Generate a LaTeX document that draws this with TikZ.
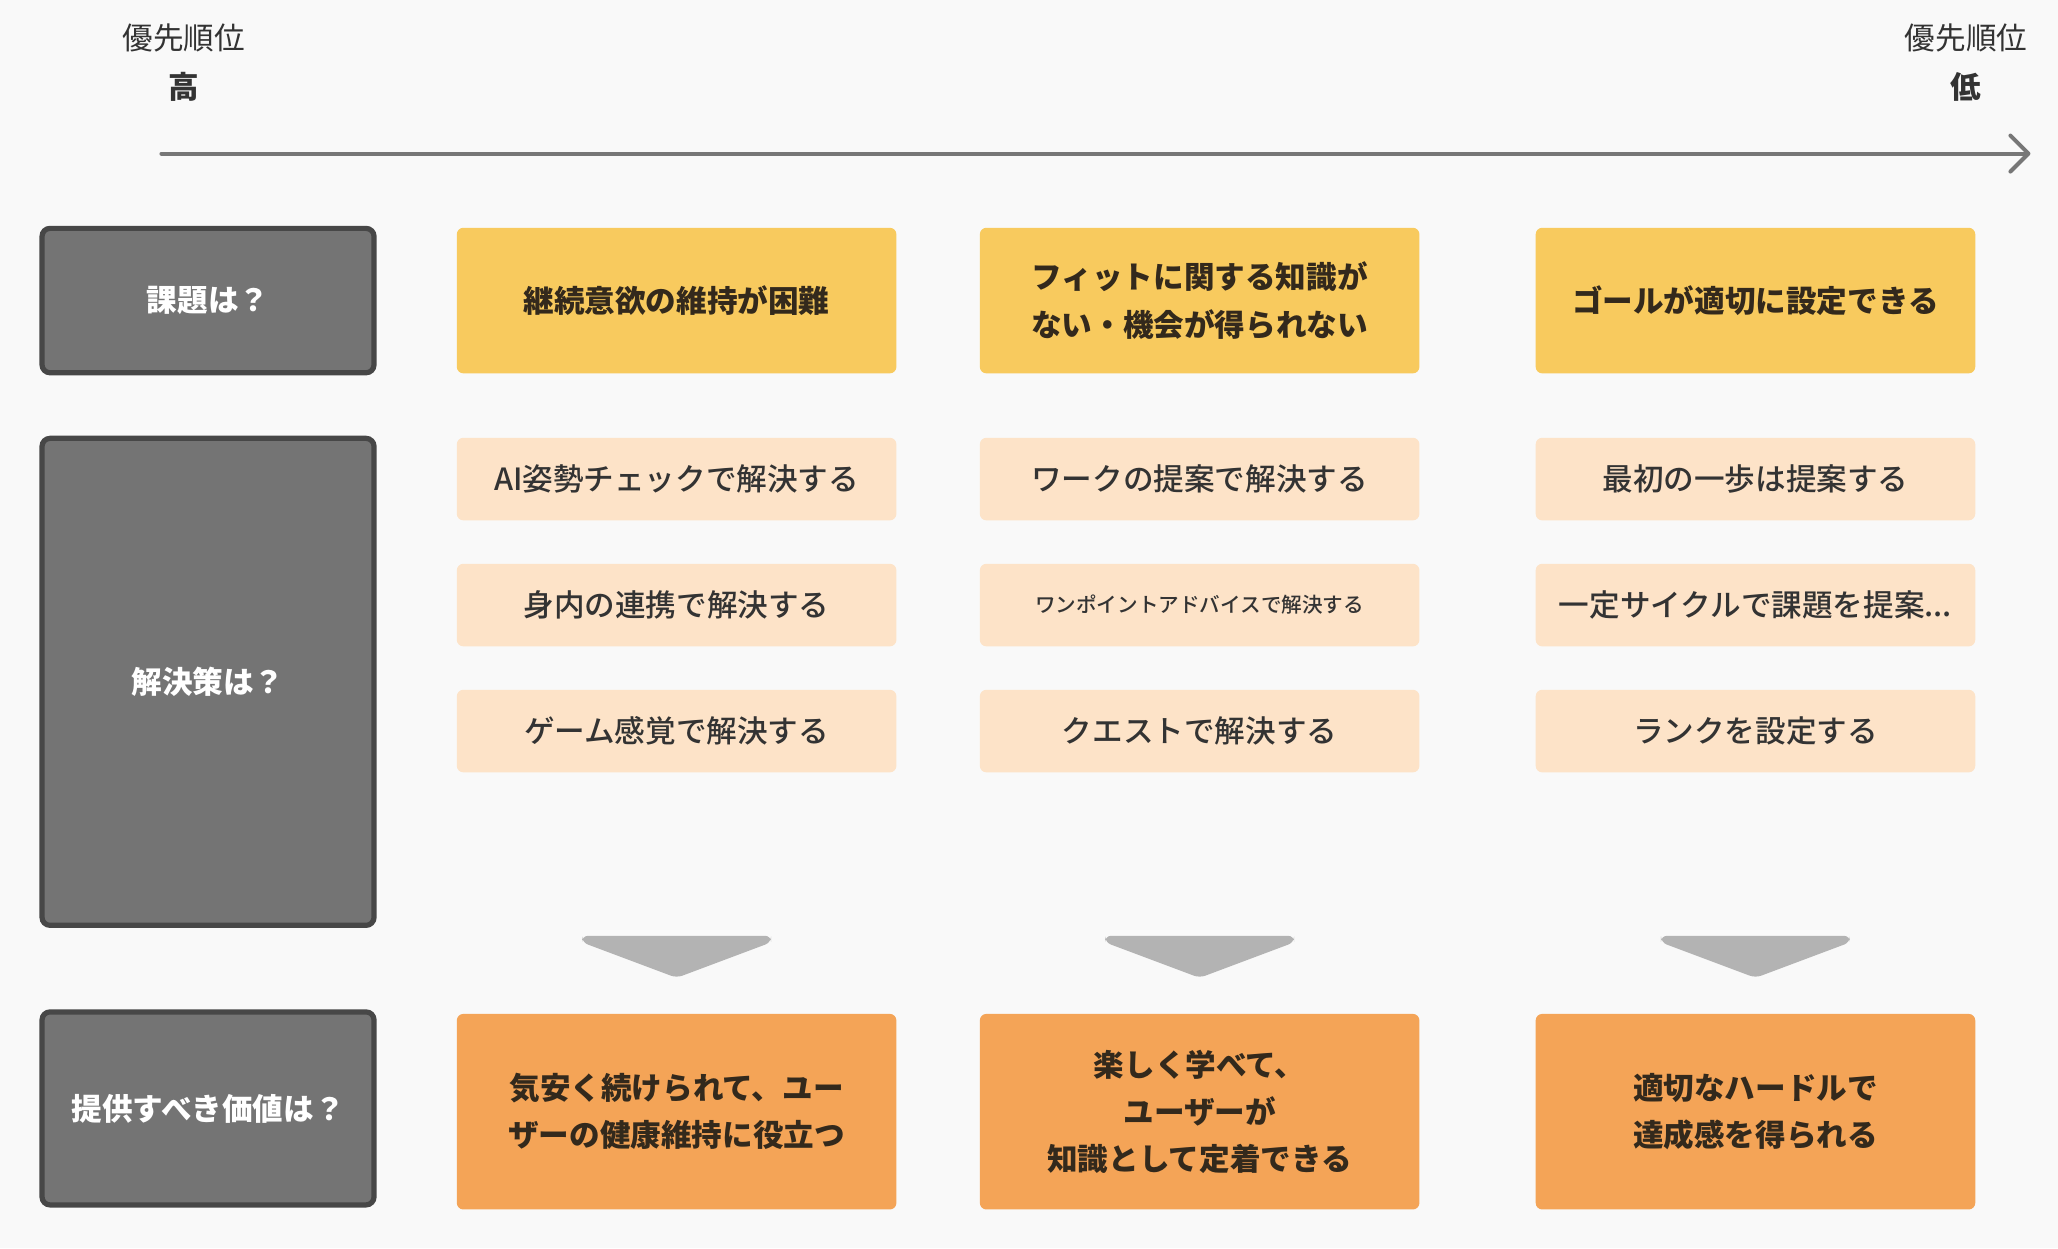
\documentclass[tikz,border=0pt]{standalone}
\usepackage{fontspec}
\setmainfont{Noto Sans CJK JP}
\newfontfamily\midfont{Noto Sans CJK JP Medium}
\usepackage{xcolor}
\usetikzlibrary{arrows.meta}

\definecolor{bg}{HTML}{F9F9F9}
\definecolor{qfill}{HTML}{747474}
\definecolor{qedge}{HTML}{474747}
\definecolor{issuefill}{HTML}{F8CA5E}
\definecolor{ideafill}{HTML}{FDE3C8}
\definecolor{valuefill}{HTML}{F4A457}
\definecolor{dropgray}{HTML}{B3B3B3}
\definecolor{axisgray}{HTML}{777777}
\definecolor{ink}{HTML}{333333}
\definecolor{darkink}{HTML}{33291C}

\tikzset{
  big/.style={font=\fontsize{15.3pt}{23.6pt}\selectfont},
  bigbold/.style={font=\bfseries\fontsize{15.3pt}{23.6pt}\selectfont},
  head/.style={big, text=ink, inner sep=0pt},
  qbox/.style={bigbold, draw=qedge, fill=qfill, line width=2.6pt, rounded corners=4pt,
    minimum width=166pt, text=white, inner sep=0pt},
  card/.style={rounded corners=3.3pt, minimum width=219.8pt, inner sep=0pt, align=center},
  issue/.style={card, bigbold, fill=issuefill, minimum height=72.8pt, text=darkink},
  idea/.style={card, font=\midfont\fontsize{15.3pt}{23.6pt}\selectfont, fill=ideafill,
    minimum height=41.3pt, text=ink},
  value/.style={card, bigbold, fill=valuefill, minimum height=97.8pt, text=darkink},
  axis/.style={draw=axisgray, line width=2pt, line cap=round,
    -{Straight Barb[length=9pt,width=18pt,round]}}
}

\begin{document}
\begin{tikzpicture}[x=0.65625pt, y=-0.65625pt]
  \useasboundingbox[fill=bg] (0,0) rectangle (1568,951);

  \node[head] (hiTop) at (140,29) {優先順位};
  \node[head, bigbold] (hi) at (140,66) {高};
  \node[head] (loTop) at (1498,29) {優先順位};
  \node[head, bigbold] (lo) at (1498,66) {低};
  \coordinate (axL) at (123,117);
  \coordinate (axR) at (1547,117);
  \draw[axis] (axL) -- (axR);

  \node[qbox, minimum height=72.2pt] (q1) at (158.5,229) {課題は？};
  \node[qbox, minimum height=243.5pt] (q2) at (158.5,519.5) {解決策は？};
  \node[qbox, minimum height=96.5pt] (q3) at (158.5,844.5) {提供すべき価値は？};

  \node[issue] (is1) at (515.5,229) {継続意欲の維持が困難};
  \node[issue] (is2) at (914,229) {フィットに関する知識が\\ない・機会が得られない};
  \node[issue] (is3) at (1337.5,229) {ゴールが適切に設定できる};

  \node[idea] (a1) at (515.5,365) {AI姿勢チェックで解決する};
  \node[idea] (a2) at (515.5,461) {身内の連携で解決する};
  \node[idea] (a3) at (515.5,557) {ゲーム感覚で解決する};
  \node[idea] (b1) at (914,365) {ワークの提案で解決する};
  \node[idea, font=\midfont\fontsize{10.3pt}{12pt}\selectfont] (b2) at (914,461) {ワンポイントアドバイスで解決する};
  \node[idea] (b3) at (914,557) {クエストで解決する};
  \node[idea] (c1) at (1337.5,365) {最初の一歩は提案する};
  \node[idea] (c2) at (1337.5,461) {一定サイクルで課題を提案...};
  \node[idea] (c3) at (1337.5,557) {ランクを設定する};

  \foreach \cx in {515.5,914,1337.5}
    \fill[dropgray, rounded corners=3pt] (\cx-72,713) -- (\cx+72,713) -- (\cx+72,718)
      -- (\cx,745) -- (\cx-72,718) -- cycle;

  \node[value] (v1) at (515.5,847) {気安く続けられて、ユー\\ザーの健康維持に役立つ};
  \node[value] (v2) at (914,847) {楽しく学べて、\\ユーザーが\\知識として定着できる};
  \node[value] (v3) at (1337.5,847) {適切なハードルで\\達成感を得られる};
\end{tikzpicture}
\end{document}
